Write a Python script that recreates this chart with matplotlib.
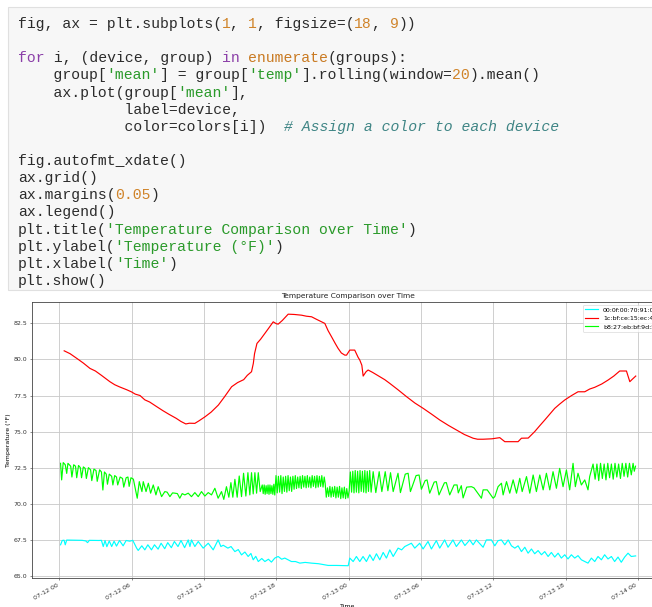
import numpy as np
import pandas as pd
import matplotlib
matplotlib.use('Agg')
import matplotlib.pyplot as plt
import matplotlib.dates as mdates
from matplotlib.patches import Rectangle

# ---- data (hours after 07-12 00:00, temperature in F) ----
devices = ['00:0f:00:70:91:0a', '1c:bf:ce:15:ec:4d', 'b8:27:eb:bf:9d:51']
colors = ['cyan', 'red', 'lime']

cyan_pts = [
    (0.11, 67.15), (0.25, 67.45), (0.40, 67.47), (0.50, 67.15), (0.62, 67.48), (1.20, 67.47),
    (1.90, 67.46), (2.20, 67.42), (2.35, 67.30), (2.50, 67.46), (3.30, 67.45), (3.50, 67.46),
    (3.65, 67.03), (3.80, 67.45), (3.95, 67.02), (4.15, 67.42), (4.35, 67.03), (4.55, 67.40),
    (4.75, 67.06), (5.00, 67.45), (5.30, 67.08), (5.55, 67.45), (5.85, 67.40), (6.10, 67.46),
    (6.42, 66.92), (6.55, 66.76), (6.85, 67.08), (7.10, 66.80), (7.35, 67.15), (7.65, 66.80),
    (7.90, 67.15), (8.20, 66.85), (8.45, 67.26), (8.75, 66.88), (9.00, 67.30), (9.30, 66.95),
    (9.55, 67.38), (9.85, 67.03), (10.10, 67.45), (10.40, 66.95), (10.70, 67.49), (10.84, 67.03),
    (10.97, 67.49), (11.25, 67.03), (11.53, 67.38), (11.94, 66.92), (12.36, 67.26), (12.77, 66.80),
    (13.18, 67.49), (13.41, 67.03), (13.60, 67.12), (13.99, 66.92), (14.25, 67.03), (14.57, 66.68),
    (14.85, 66.82), (15.12, 66.45), (15.40, 66.65), (15.67, 66.34), (15.90, 66.55), (16.09, 66.11),
    (16.30, 66.35), (16.51, 65.99), (16.80, 66.20), (17.06, 65.99), (17.35, 66.15), (17.60, 65.95),
    (17.88, 66.23), (18.16, 66.34), (18.45, 66.15), (18.71, 66.23), (18.99, 66.11), (19.26, 65.99),
    (19.60, 65.99), (19.96, 65.88), (20.40, 65.93), (20.92, 65.88), (21.50, 65.84), (22.03, 65.76),
    (22.31, 65.72), (23.00, 65.72), (23.97, 65.70), (24.10, 66.23), (24.38, 65.99), (24.65, 66.34),
    (24.93, 65.99), (25.20, 66.34), (25.48, 65.99), (25.76, 66.46), (26.04, 66.06), (26.31, 66.53),
    (26.59, 66.11), (26.87, 66.62), (27.14, 66.23), (27.42, 66.80), (27.70, 66.34), (28.11, 66.92),
    (28.40, 66.80), (28.66, 67.03), (28.94, 67.15), (29.21, 67.26), (29.49, 66.92), (29.90, 67.26),
    (30.18, 66.86), (30.59, 67.38), (30.87, 66.86), (31.28, 67.44), (31.56, 66.92), (31.97, 67.49),
    (32.25, 66.98), (32.66, 67.49), (32.94, 67.03), (33.36, 67.49), (33.65, 67.10), (34.05, 67.49),
    (34.33, 67.15), (34.60, 67.49), (35.16, 66.98), (35.43, 67.49), (35.85, 67.49), (36.13, 67.08),
    (36.40, 67.44), (36.68, 67.49), (36.96, 67.15), (37.24, 67.49), (37.51, 67.08), (37.79, 66.92),
    (38.06, 67.08), (38.34, 66.68), (38.62, 66.98), (38.89, 66.57), (39.17, 66.86), (39.44, 66.53),
    (39.72, 66.75), (40.00, 66.46), (40.27, 66.68), (40.55, 66.34), (40.82, 66.62), (41.10, 66.30),
    (41.38, 66.57), (41.65, 66.23), (41.93, 66.46), (42.20, 66.17), (42.48, 66.46), (42.76, 66.23),
    (43.03, 66.40), (43.31, 66.11), (43.59, 65.99), (43.86, 65.88), (44.14, 66.23), (44.42, 65.99),
    (44.69, 66.34), (44.97, 66.11), (45.24, 66.46), (45.52, 66.17), (45.80, 66.34), (46.07, 65.99),
    (46.35, 66.30), (46.62, 65.94), (46.90, 66.30), (47.18, 66.57), (47.45, 66.34), (47.81, 66.38),
]

red_pts = [
    (0.41, 80.60), (0.90, 80.40), (1.50, 80.05), (2.00, 79.75), (2.55, 79.38), (3.00, 79.20),
    (3.50, 78.90), (4.20, 78.46), (4.60, 78.25), (5.00, 78.10), (5.30, 78.00), (5.60, 77.90),
    (6.00, 77.75), (6.30, 77.60), (6.70, 77.50), (7.10, 77.20), (7.50, 77.05), (8.10, 76.72),
    (8.60, 76.45), (9.10, 76.20), (9.70, 75.92), (10.10, 75.70), (10.50, 75.53), (10.80, 75.58),
    (11.25, 75.57), (11.60, 75.75), (12.10, 76.03), (12.60, 76.35), (13.20, 76.84), (13.70, 77.40),
    (14.30, 78.11), (14.80, 78.40), (15.30, 78.60), (15.60, 78.90), (15.95, 79.15), (16.10, 79.73),
    (16.20, 80.40), (16.40, 81.11), (16.70, 81.40), (17.06, 81.81), (17.40, 82.20), (17.75, 82.61),
    (18.00, 82.48), (18.16, 82.45), (18.50, 82.70), (18.99, 83.14), (19.50, 83.12), (20.10, 83.07),
    (20.50, 83.00), (20.93, 82.96), (21.30, 82.80), (21.76, 82.61), (22.03, 82.50), (22.30, 82.00),
    (22.59, 81.57), (22.90, 81.10), (23.13, 80.77), (23.40, 80.45), (23.69, 80.30), (23.83, 80.30),
    (24.10, 80.65), (24.51, 80.65), (24.79, 80.15), (24.93, 79.96), (25.10, 79.60), (25.21, 78.85),
    (25.45, 79.15), (25.62, 79.27), (26.00, 79.10), (26.50, 78.85), (27.00, 78.60), (27.42, 78.34),
    (28.10, 77.90), (28.81, 77.42), (29.50, 76.98), (30.19, 76.61), (30.90, 76.20), (31.57, 75.80),
    (32.30, 75.42), (32.95, 75.11), (33.60, 74.80), (34.33, 74.54), (34.70, 74.47), (35.16, 74.47),
    (35.90, 74.50), (36.54, 74.58), (36.96, 74.30), (37.50, 74.30), (38.06, 74.30), (38.34, 74.54),
    (38.90, 74.55), (39.44, 75.00), (39.85, 75.40), (40.27, 75.80), (41.10, 76.61), (41.50, 76.90),
    (41.93, 77.19), (42.50, 77.50), (43.03, 77.76), (43.59, 77.76), (44.00, 77.95), (44.42, 78.07),
    (45.00, 78.30), (45.52, 78.57), (46.00, 78.85), (46.49, 79.20), (47.05, 79.20), (47.20, 78.80),
    (47.33, 78.46), (47.50, 78.60), (47.82, 78.85),
]

green_pts = [
    (0.11, 72.80), (0.20, 71.65), (0.33, 72.85), (0.50, 72.70), (0.62, 72.10), (0.72, 72.80),
    (0.95, 72.60), (1.05, 71.85), (1.20, 72.70), (1.35, 72.60), (1.45, 71.80), (1.60, 72.65),
    (1.75, 72.50), (1.85, 71.80), (2.00, 72.55), (2.15, 72.45), (2.25, 71.75), (2.42, 72.50),
    (2.60, 72.35), (2.70, 71.60), (2.88, 72.40), (3.05, 72.30), (3.15, 71.55), (3.35, 72.35),
    (3.50, 72.20), (3.62, 70.95), (3.75, 72.20), (3.90, 72.05), (4.00, 71.35), (4.15, 72.05),
    (4.35, 71.90), (4.45, 71.30), (4.60, 71.95), (4.75, 71.85), (4.85, 71.30), (5.05, 71.85),
    (5.25, 71.75), (5.35, 71.15), (5.55, 71.80), (5.70, 71.85), (5.80, 71.20), (5.95, 71.80),
    (6.15, 71.70), (6.47, 70.38), (6.64, 71.53), (6.86, 70.84), (6.97, 71.53), (7.20, 70.84),
    (7.39, 71.42), (7.58, 70.73), (7.80, 71.30), (8.02, 70.61), (8.21, 71.18), (8.49, 70.49),
    (8.76, 70.84), (8.95, 70.80), (9.18, 70.49), (9.40, 70.75), (9.59, 70.73), (9.80, 70.70),
    (10.00, 70.38), (10.20, 70.70), (10.42, 70.61), (10.70, 70.73), (10.97, 70.49), (11.25, 70.77),
    (11.53, 70.49), (11.80, 70.84), (12.08, 70.53), (12.36, 70.77), (12.63, 70.61), (12.91, 71.07),
    (13.18, 70.38), (13.46, 70.84), (13.65, 70.30), (13.87, 71.18), (14.07, 70.45), (14.24, 71.46),
    (14.40, 70.45), (14.57, 71.69), (14.76, 70.45), (14.93, 71.92), (15.12, 70.49), (15.29, 72.11),
    (15.48, 70.53), (15.65, 72.15), (15.81, 70.61), (15.95, 72.15), (16.09, 70.68), (16.23, 72.15),
    (16.37, 70.73), (16.51, 72.15), (16.67, 70.84), (16.84, 71.30), (16.92, 70.70), (17.00, 71.30),
    (17.08, 70.65), (17.16, 71.25), (17.24, 70.70), (17.32, 71.30), (17.40, 70.65), (17.48, 71.30),
    (17.56, 70.70), (17.64, 71.25), (17.72, 70.65), (17.80, 71.35), (17.88, 70.60), (17.98, 71.95),
    (18.08, 70.75), (18.18, 71.90), (18.28, 70.80), (18.38, 71.95), (18.48, 70.70), (18.58, 71.85),
    (18.68, 70.85), (18.78, 71.90), (18.88, 70.80), (18.98, 71.95), (19.08, 70.90), (19.18, 71.85),
    (19.28, 70.85), (19.38, 71.90), (19.48, 71.00), (19.58, 71.95), (19.68, 71.05), (19.78, 71.85),
    (19.88, 71.10), (19.98, 71.90), (20.08, 71.05), (20.18, 71.95), (20.28, 71.15), (20.38, 71.90),
    (20.48, 71.10), (20.58, 71.95), (20.68, 71.15), (20.78, 71.85), (20.88, 71.10), (20.98, 71.95),
    (21.08, 71.20), (21.18, 71.90), (21.28, 71.10), (21.38, 71.95), (21.48, 71.15), (21.58, 71.90),
    (21.68, 71.20), (21.78, 71.95), (21.88, 71.15), (21.98, 71.85), (22.06, 71.40), (22.15, 70.45),
    (22.25, 71.10), (22.35, 70.50), (22.45, 71.20), (22.55, 70.45), (22.65, 71.15), (22.75, 70.50),
    (22.85, 71.20), (22.95, 70.40), (23.05, 71.15), (23.15, 70.45), (23.25, 71.20), (23.35, 70.35),
    (23.45, 71.10), (23.55, 70.40), (23.65, 71.15), (23.75, 70.35), (23.85, 71.05), (23.95, 70.40),
    (24.05, 70.90), (24.15, 72.20), (24.25, 70.80), (24.35, 72.25), (24.45, 70.75), (24.55, 72.30),
    (24.65, 70.80), (24.75, 72.25), (24.85, 70.75), (24.95, 72.30), (25.05, 70.85), (25.15, 72.25),
    (25.25, 70.80), (25.35, 72.30), (25.45, 70.75), (25.55, 72.25), (25.65, 70.85), (25.75, 72.30),
    (25.87, 70.80), (26.04, 72.22), (26.26, 70.77), (26.54, 72.22), (26.76, 70.84), (27.04, 72.22),
    (27.26, 70.90), (27.48, 72.15), (27.70, 70.84), (28.10, 72.11), (28.30, 70.77), (28.70, 72.05),
    (28.94, 72.11), (29.13, 70.84), (29.60, 71.95), (29.85, 71.99), (30.04, 71.00), (30.35, 71.60),
    (30.51, 71.65), (30.73, 70.73), (31.10, 71.50), (31.28, 71.53), (31.50, 70.61), (31.95, 71.45),
    (32.11, 71.46), (32.39, 70.61), (32.75, 71.30), (33.00, 71.30), (33.10, 70.75), (33.35, 71.25),
    (33.50, 70.40), (33.80, 71.15), (34.19, 71.18), (34.40, 71.10), (35.02, 70.38), (35.16, 70.96),
    (35.50, 70.96), (35.99, 70.38), (36.13, 70.49), (36.40, 71.18), (36.68, 71.42), (36.82, 70.61),
    (37.10, 71.53), (37.37, 70.73), (37.65, 71.65), (37.93, 70.73), (38.20, 71.76), (38.40, 70.84),
    (38.76, 71.88), (39.03, 70.73), (39.31, 71.99), (39.58, 70.84), (39.86, 71.99), (40.14, 70.96),
    (40.41, 72.11), (40.69, 70.96), (40.96, 72.22), (41.24, 71.07), (41.51, 72.45), (41.79, 71.18),
    (42.07, 72.34), (42.34, 70.96), (42.62, 72.80), (42.81, 71.18), (43.03, 72.11), (43.31, 71.30),
    (43.59, 71.65), (43.86, 70.96), (44.00, 71.88), (44.28, 72.75), (44.45, 71.70), (44.60, 72.75),
    (44.75, 71.60), (44.90, 72.80), (45.05, 71.75), (45.20, 72.75), (45.35, 71.65), (45.50, 72.80),
    (45.65, 71.80), (45.80, 72.75), (45.95, 71.70), (46.10, 72.80), (46.25, 71.85), (46.40, 72.75),
    (46.55, 71.75), (46.70, 72.80), (46.85, 71.90), (47.00, 72.80), (47.15, 71.85), (47.30, 72.80),
    (47.45, 72.00), (47.60, 72.80), (47.70, 72.25), (47.80, 72.60),
]

# code cell shown above the chart: (text, token kind)
code_lines = [
    [('fig, ax = plt.subplots(', 'n'), ('1', 'm'), (', ', 'n'), ('1', 'm'), (', figsize=(', 'n'),
     ('18', 'm'), (', ', 'n'), ('9', 'm'), ('))', 'n')],
    [],
    [('for', 'k'), (' i, (device, group) ', 'n'), ('in', 'k'), (' ', 'n'), ('enumerate', 'b'),
     ('(groups):', 'n')],
    [('    group[', 'n'), ("'mean'", 's'), ('] = group[', 'n'), ("'temp'", 's'),
     ('].rolling(window=', 'n'), ('20', 'm'), (').mean()', 'n')],
    [('    ax.plot(group[', 'n'), ("'mean'", 's'), ('],', 'n')],
    [('            label=device,', 'n')],
    [('            color=colors[i])  ', 'n'), ('# Assign a color to each device', 'c')],
    [],
    [('fig.autofmt_xdate()', 'n')],
    [('ax.grid()', 'n')],
    [('ax.margins(', 'n'), ('0.05', 'm'), (')', 'n')],
    [('ax.legend()', 'n')],
    [('plt.title(', 'n'), ("'Temperature Comparison over Time'", 's'), (')', 'n')],
    [('plt.ylabel(', 'n'), ("'Temperature (°F)'", 's'), (')', 'n')],
    [('plt.xlabel(', 'n'), ("'Time'", 's'), (')', 'n')],
    [('plt.show()', 'n')],
]
token_colors = {'n': '#2b2b2b', 'k': '#8b3fa8', 'b': '#c97a22', 'm': '#d0842a',
                's': '#2a9a2a', 'c': '#3f8585'}

W, H = 652, 607
fig = plt.figure(figsize=(W / 100, H / 100), dpi=100)

# notebook code cell
fig.patches.append(Rectangle((8 / W, 1 - 290 / H), (W - 2) / W, 283 / H,
                             transform=fig.transFigure, facecolor='#f7f7f7',
                             edgecolor='#e0e0e0', lw=0.8))
cw = 8.85
for i, line in enumerate(code_lines):
    y = 1 - (28 + i * 17.13) / H
    col = 0
    for txt, kind in line:
        fig.text((18 + col * cw) / W, y, txt, fontsize=10.6, family='Liberation Mono',
                 color=token_colors[kind], style='italic' if kind == 'c' else 'normal',
                 va='baseline', ha='left')
        col += len(txt)

# chart
ax = fig.add_axes([31.8 / W, 1 - 578.3 / H, (664.5 - 31.8) / W, (578.3 - 301.6) / H])
base = pd.Timestamp('2020-07-12')
for pts, dev, c in zip([cyan_pts, red_pts, green_pts], devices, colors):
    arr = np.array(pts)
    t = base + pd.to_timedelta(arr[:, 0], unit='h')
    ax.plot(t, arr[:, 1], color=c, lw=0.85, label=dev)

ax.margins(0.05)
ax.xaxis.set_major_locator(mdates.HourLocator(byhour=[0, 6, 12, 18]))
ax.xaxis.set_major_formatter(mdates.DateFormatter('%m-%d %H'))
ax.set_yticks([65.0, 67.5, 70.0, 72.5, 75.0, 77.5, 80.0, 82.5])
ax.tick_params(labelsize=4.5, length=1.6, width=0.4, pad=1.6, colors='#333333')
for lab in ax.get_xticklabels():
    lab.set_rotation(30)
    lab.set_ha('right')
ax.grid(color='#c8c8c8', lw=0.6)
for sp in ax.spines.values():
    sp.set_linewidth(0.6)
    sp.set_color('#444444')
ax.set_title('Temperature Comparison over Time', fontsize=5.4, pad=2.7, color='#222222')
ax.set_ylabel('Temperature (°F)', fontsize=4.5, labelpad=1.8)
ax.set_xlabel('Time', fontsize=4.5, labelpad=1.8)
leg = ax.legend(loc='upper right', fontsize=4.5)
leg.get_frame().set_linewidth(0.45)

fig.savefig('out.png', dpi=100)
